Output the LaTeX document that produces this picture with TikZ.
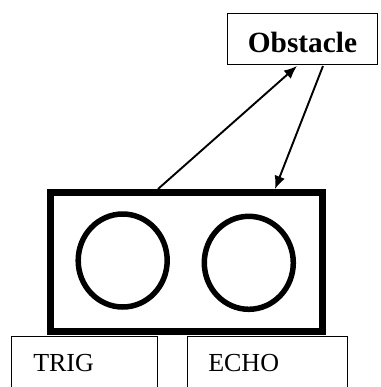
\documentclass[tikz,border=0pt]{standalone}
\usepackage{fontspec}
\setmainfont{Liberation Serif}
\usetikzlibrary{shapes.geometric,arrows.meta}
\def\pxu{0.75pt}
\tikzset{
  thinbox/.style={draw, line width=1.2*\pxu, rectangle, inner sep=0pt},
  sensorbox/.style={draw, line width=7*\pxu, rectangle, inner sep=0pt},
  transducer/.style={draw, ellipse, line width=5.5*\pxu, inner sep=0pt},
  lbl/.style={font=\fontsize{19.5}{22}\selectfont, inner sep=0pt, anchor=base west},
  sig/.style={line width=1.9*\pxu, -{Latex[length=13*\pxu, width=11*\pxu]}}
}
\begin{document}
\begin{tikzpicture}[x=0.75pt,y=-0.75pt]
\useasboundingbox (0,0) rectangle (380,387);
% obstacle
\node[thinbox, minimum width=150*\pxu, minimum height=51*\pxu,
      text height=26*\pxu, text depth=0pt,
      font=\bfseries\fontsize{22}{26}\selectfont] (obs) at (302.5,39) {Obstacle};
% sensor
\node[sensorbox, minimum width=272*\pxu, minimum height=139*\pxu] (sensor) at (187,261.5) {};
\node[transducer, minimum width=89*\pxu, minimum height=93*\pxu] (tx) at (122.7,260.5) {};
\node[transducer, minimum width=89*\pxu, minimum height=93*\pxu] (rx) at (248.8,262.8) {};
% pins
\node[thinbox, anchor=north west, minimum width=146*\pxu, minimum height=80*\pxu] (trigbox) at (11,336) {};
\node[thinbox, anchor=north west, minimum width=160*\pxu, minimum height=80*\pxu] (echobox) at (187,336) {};
\node[lbl] (trig) at (33,371) {TRIG};
\node[lbl] (echo) at (208,371.5) {ECHO};
% signals
\coordinate (s1) at (158,189);
\coordinate (o1) at (297,66);
\coordinate (o2) at (323,66);
\coordinate (s2) at (275,189);
\draw[sig] (s1) -- (o1);
\draw[sig] (o2) -- (s2);
\end{tikzpicture}
\end{document}
